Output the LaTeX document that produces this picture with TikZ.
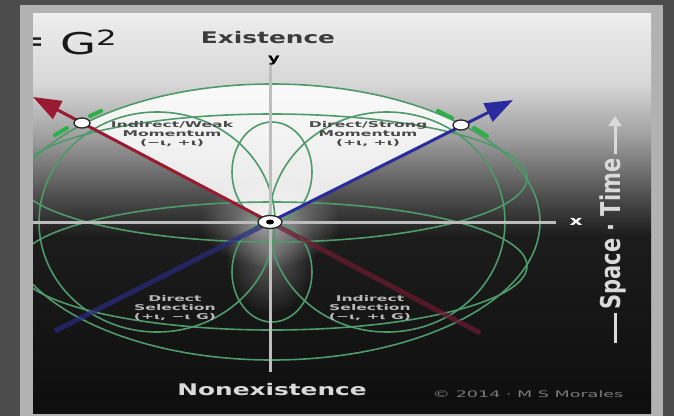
\documentclass[tikz,border=0pt]{standalone}
\usepackage{fontspec}
\setmainfont{DejaVu Sans}
\usepackage{graphicx}
\usetikzlibrary{arrows.meta,shapes.geometric,fadings}
\definecolor{frameout}{HTML}{4C4C4C}
\definecolor{framein}{HTML}{B2B2B2}
\definecolor{bgA}{HTML}{EEEEEE}
\definecolor{bgB}{HTML}{D6D6D6}
\definecolor{bgC}{HTML}{9A9A9A}
\definecolor{bgD}{HTML}{555555}
\definecolor{bgE}{HTML}{1C1C1C}
\definecolor{bgF}{HTML}{0E0E0E}
\definecolor{ringgreen}{HTML}{4E9A6A}
\definecolor{glowgreen}{HTML}{2DB04A}
\definecolor{axisgray}{HTML}{BDBDBD}
\definecolor{arrred}{HTML}{9A1A32}
\definecolor{arrblue}{HTML}{2B2BA0}
\definecolor{dimred}{HTML}{6E1A32}
\definecolor{dimblue}{HTML}{2A2A80}
\definecolor{darktext}{HTML}{3C3C3C}
\definecolor{labeldark}{HTML}{4A4A4A}
\definecolor{labellight}{HTML}{B8B8B8}
\definecolor{lighttext}{HTML}{DADADA}
\definecolor{copytext}{HTML}{7A7A7A}
\newcommand{\sx}[1]{\scalebox{1.55}[1]{#1}}
\newcommand{\lx}[1]{\scalebox{1.95}[1]{#1}}
\tikzfading[name=glowfade, inner color=transparent!0, outer color=transparent!100]
\begin{document}
\begin{tikzpicture}[x=1pt,y=-1pt,
  ring/.style={draw=ringgreen, line width=1.6},
  glowline/.style={draw=glowgreen, line width=4, line cap=round},
  axisline/.style={draw=axisgray, line width=3},
  dimline/.style={line width=5, opacity=0.7},
  marker/.style={ellipse, draw=black!85, fill=white, line width=1.3, minimum width=16, minimum height=10, inner sep=0pt},
  wlabel/.style={align=center, font=\bfseries\fontsize{8}{9}\selectfont, inner sep=0pt},
]
\useasboundingbox (0,0) rectangle (674,416);
\fill[frameout] (0,0) rectangle (674,416);
\fill[framein] (20,5) rectangle (663,416);
\coordinate (o) at (270,222);
\coordinate (tipL) at (33,97);
\coordinate (tipR) at (513,100);
\coordinate (redEnd) at (480,333);
\coordinate (blueEnd) at (55,331);
\coordinate (yTop) at (270,62);
\coordinate (yBot) at (270,372);
\coordinate (xL) at (33,222);
\coordinate (xR) at (556,222);
\begin{scope}
\clip (33,13) rectangle (651,413);
% background gradient bands
\shade[top color=bgA,bottom color=bgB] (33,13) rectangle (651,86);
\shade[top color=bgB,bottom color=bgC] (33,85) rectangle (651,141);
\shade[top color=bgC,bottom color=bgD] (33,140) rectangle (651,191);
\shade[top color=bgD,bottom color=bgE] (33,190) rectangle (651,236);
\shade[top color=bgE,bottom color=bgF] (33,235) rectangle (651,413);
% white wedge
\begin{scope}
\clip (272,222) ellipse [x radius=268, y radius=138];
\fill[white, opacity=0.88] (o) -- (-50,53) -- (600,54) -- cycle;
\end{scope}
% glow near origin
\fill[white, opacity=0.5, path fading=glowfade] (270,222) ellipse [x radius=70, y radius=45];
\fill[white, opacity=0.3, path fading=glowfade] (270,255) ellipse [x radius=45, y radius=60];
% green rings
\draw[ring] (272,222) ellipse [x radius=268, y radius=138];
\draw[ring] (157,222) ellipse [x radius=118, y radius=110];
\draw[ring] (387,222) ellipse [x radius=118, y radius=110];
\draw[ring] (272,172) ellipse [x radius=40, y radius=50];
\draw[ring] (272,272) ellipse [x radius=40, y radius=50];
\draw[ring] (272,178) ellipse [x radius=255, y radius=64];
\draw[ring] (272,266) ellipse [x radius=255, y radius=64];
% green glints
\draw[glowline] (90,116) -- (101,111);
\draw[glowline] (55,135) -- (67,128);
\draw[glowline] (438,111) -- (452,118);
\draw[glowline] (474,128) -- (487,136);
% lower dim continuations
\draw[dimline, draw=dimred] (o) -- (redEnd);
\draw[dimline, draw=dimblue] (o) -- (blueEnd);
% axes
\draw[axisline] (yTop) -- (yBot);
\draw[axisline] (xL) -- (xR);
% arrows
\draw[draw=arrred, fill=arrred, line width=3, -{Triangle[length=28pt,width=20pt]}] (o) -- (tipL);
\draw[draw=arrblue, fill=arrblue, line width=3, -{Triangle[length=28pt,width=20pt]}] (o) -- (tipR);
% markers
\node[marker] (mL) at (82,123) {};
\node[marker] (mR) at (461,125) {};
\node[marker, minimum width=24, minimum height=13] (oMark) at (o) {};
\node[ellipse, fill=black, minimum width=8, minimum height=5, inner sep=0pt] (oDot) at (o) {};
% texts
\node[text=darktext, inner sep=0pt, font=\bfseries] (exist) at (268,38) {\fontsize{16}{16}\selectfont\sx{Existence}};
\node[text=black, inner sep=0pt, font=\bfseries] (ylab) at (274,61) {\fontsize{12}{12}\selectfont\sx{y}};
\node[text=lighttext, inner sep=0pt, font=\bfseries] (nonex) at (272,390) {\fontsize{16}{16}\selectfont\sx{Nonexistence}};
\node[text=white, inner sep=0pt, font=\bfseries] (xlab) at (576,222) {\fontsize{13}{13}\selectfont\sx{x}};
\node[text=black!90, inner sep=0pt, anchor=east] (eqs) at (47,45) {\fontsize{30}{30}\selectfont\sx{=}};
\node[text=black!90, inner sep=0pt, anchor=west] (gsq) at (60,42) {\fontsize{30}{30}\selectfont\sx{G\textsuperscript{2}}};
\node[wlabel, text=labeldark] (ulab) at (172,134) {\lx{Indirect/Weak}\\\lx{Momentum}\\\lx{(−ι, +ι)}};
\node[wlabel, text=labeldark] (urlab) at (368,134) {\lx{Direct/Strong}\\\lx{Momentum}\\\lx{(+ι, +ι)}};
\node[wlabel, text=labellight] (lllab) at (175,308) {\lx{Direct}\\\lx{Selection}\\\lx{(+ι, −ι G)}};
\node[wlabel, text=labellight] (lrlab) at (370,308) {\lx{Indirect}\\\lx{Selection}\\\lx{(−ι, +ι G)}};
\node[text=copytext, inner sep=0pt] (copy) at (528,394) {\fontsize{9}{9}\selectfont\lx{© 2014 · M S Morales}};
% space-time label
\node[text=lighttext, rotate=90, inner sep=0pt, font=\bfseries] (st) at (613,234) {\fontsize{21}{21}\selectfont\scalebox{1}[1.3]{Space · Time}};
\coordinate (stA) at (615,154);
\coordinate (stB) at (615,116);
\coordinate (stC) at (615,313);
\coordinate (stD) at (615,343);
\draw[draw=lighttext, line width=3, -{Triangle[length=10pt,width=13pt]}] (stA) -- (stB);
\draw[draw=lighttext, line width=3] (stC) -- (stD);
\end{scope}
\end{tikzpicture}
\end{document}
